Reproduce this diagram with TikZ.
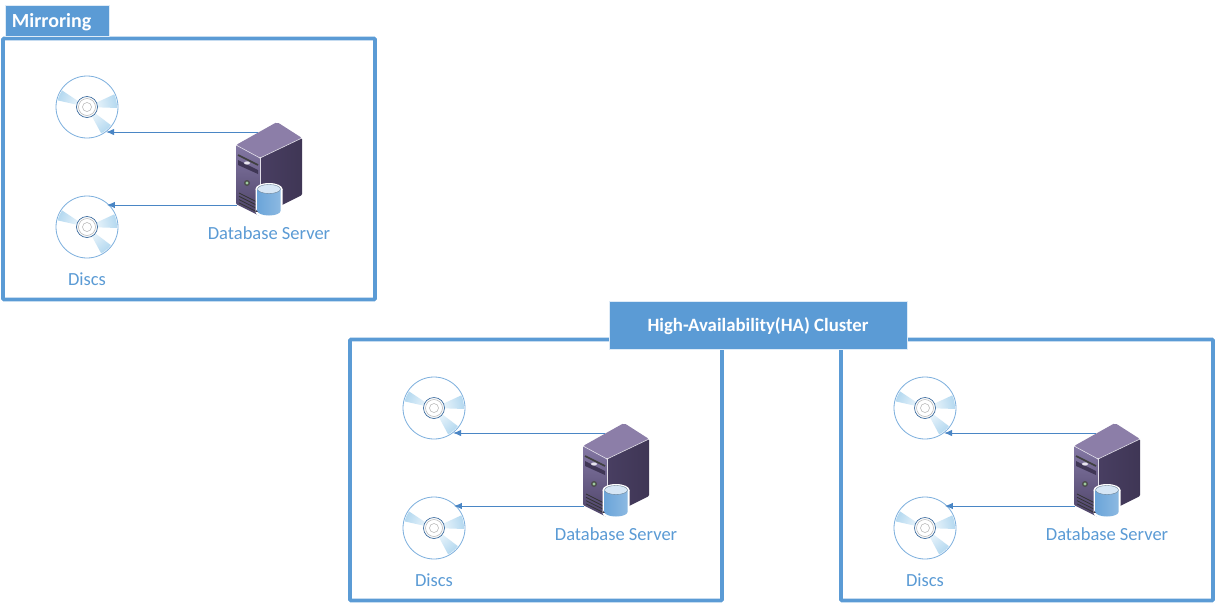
\documentclass[tikz,border=0pt]{standalone}
\usepackage{fontspec}
\setmainfont{Carlito}
\usetikzlibrary{arrows.meta}
\definecolor{boxblue}{HTML}{5B9BD5}
\definecolor{flowblue}{HTML}{4A86C5}
\definecolor{discblue}{HTML}{B5D9F0}
\definecolor{srvfront}{HTML}{6E6094}
\definecolor{srvtop}{HTML}{8C7EA8}
\definecolor{srvside}{HTML}{3F3655}
\tikzset{
  frame/.style={draw=boxblue, line width=3.6pt, fill=white, rounded corners=1pt, outer sep=0pt, minimum width=372pt, minimum height=261pt},
  header/.style={fill=boxblue, draw=white!80!boxblue, line width=0.6pt, text=white, inner sep=0pt, outer sep=0pt, text height=15pt, text depth=3pt},
  disc/.style={circle, draw=boxblue!80, line width=0.8pt, fill=white, minimum size=62pt, inner sep=0pt, outer sep=0pt},
  lbl/.style={text=boxblue, font=\fontsize{18.5}{20}\selectfont, inner sep=0pt},
  flow/.style={draw=flowblue, line width=1pt, -{Latex[length=8pt,width=6.5pt]}},
  discpic/.pic={
    % light rays
    \begin{scope}
      \clip (0,0) -- (-27,-18) -- (-31,-7) -- cycle
            (0,0) -- (31,1) -- (28,-13) -- cycle
            (0,0) -- (25,19) -- (15,28) -- cycle;
      \shade[inner color=white, outer color=discblue] (0,0) circle (30);
    \end{scope}
    % hub
    \fill[white] (0,0) circle (10.5);
    \draw[flowblue!80!black, line width=0.7pt] (0,0) circle (10.5);
    \draw[gray!60, line width=0.5pt] (0,0) circle (8.5);
    \draw[gray!60, line width=0.5pt] (0,0) circle (4.5);
  },
  serverpic/.pic={
    % body
    \fill[srvtop, rounded corners=2pt] (-33,-24) -- (8,-47) -- (33,-31) -- (-9,-11) -- cycle;
    \shade[left color=srvside!80!srvfront, right color=srvside, rounded corners=1pt] (-9,-11) -- (33,-31) -- (33,26) -- (-9,47) -- cycle;
    \shade[top color=srvfront!85!white, bottom color=srvfront!70!black, rounded corners=1pt] (-33,-24) -- (-9,-11) -- (-9,47) -- (-33,35) -- cycle;
    \draw[white!75!srvtop, line width=0.6pt] (-33,-24) -- (-9,-11) -- (33,-31);
    \draw[white!75!srvtop, line width=0.6pt] (-9,-11) -- (-9,47);
    % bays
    \draw[black!75, line width=1.6pt] (-31,-14) -- (-11,-4);
    \fill[srvside] (-31,-9) -- (-11,1) -- (-11,5) -- (-31,-4) -- cycle;
    \fill[white!80!srvtop] (-22,-6) ellipse (3 and 1.6);
    \fill[black!70] (-22,14) circle (3);
    \fill[white!70!green!60!gray] (-22,14) circle (1.6);
    % vents
    \foreach \v in {0,3.3,6.6,9.9}
      \draw[black!80, line width=0.8pt] (-30,24+\v) -- (-12,33+\v);
    % cylinder
    \fill[white] (-13.5,20) rectangle (13.5,43) (0,43) ellipse (13.5 and 6);
    \fill[white] (0,20) ellipse (13.5 and 6);
    \shade[left color=boxblue!90, middle color=white!90!boxblue, right color=boxblue!70]
      (-11.5,20) -- (11.5,20) -- (11.5,42) arc (0:180:11.5 and 4.5) -- cycle;
    \fill[boxblue!25!white] (0,20) ellipse (11.5 and 4.5);
    \draw[boxblue!50!black!70, line width=0.4pt] (0,20) ellipse (11.5 and 4.5);
  }
}
\begin{document}
\begin{tikzpicture}[x=1pt, y=-1pt]
  \useasboundingbox (0,0) rectangle (1216,603);

  % mirroring group and the two cluster groups
  \foreach \n/\dx/\dy in {a/0/0, b/347/301, c/838/301} {
    \begin{scope}[shift={(\dx,\dy)}]
      \node[frame] (frame\n) at (189,169) {};
      \node[disc] (discup\n) at (87,107) {};
      \node[disc] (disclow\n) at (87,227) {};
      \pic at (discup\n.center) {discpic};
      \pic at (disclow\n.center) {discpic};
      \pic at (269,169) {serverpic};
      \coordinate (srvup\n) at (258,132);
      \coordinate (srvlow\n) at (237,205);
      \draw[flow] (srvup\n) -- (srvup\n -| discup\n.-52);
      \draw[flow] (srvlow\n) -- (srvlow\n -| disclow\n.50);
      \node[lbl] (dbname\n) at (269,233) {Database Server};
      \node[lbl] (discname\n) at (87,279) {Discs};
    \end{scope}
  }

  % headers
  \node[header, font=\fontsize{20}{22}\selectfont\bfseries, minimum width=104pt, minimum height=31pt, text width=90pt, align=left] (mirror) at (57,21) {Mirroring};
  \node[header, font=\fontsize{18.8}{20}\selectfont\bfseries, minimum width=298pt, minimum height=48pt] (hacluster) at (758,325) {High-Availability(HA) Cluster};
\end{tikzpicture}
\end{document}
